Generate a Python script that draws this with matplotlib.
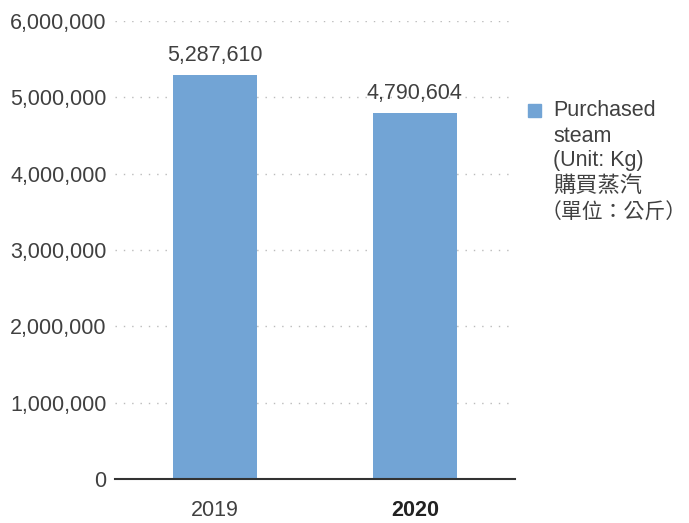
import matplotlib.pyplot as plt
from matplotlib.patches import Rectangle

years = ['2019', '2020']
steam_kg = [5287610, 4790604]
value_labels = ['5,287,610', '4,790,604']
y_ticks = [0, 1000000, 2000000, 3000000, 4000000, 5000000, 6000000]
y_tick_labels = ['0', '1,000,000', '2,000,000', '3,000,000', '4,000,000', '5,000,000', '6,000,000']
legend_lines = ['Purchased', 'steam', '(Unit: Kg)', '購買蒸汽', '（單位：公斤）']

fonts = ['Liberation Sans', 'Noto Sans CJK TC', 'DejaVu Sans']
plt.rcParams['font.family'] = fonts
text_color = '#404040'
bar_color = '#72a4d5'
fs = 15.5

fig = plt.figure(figsize=(6.89, 5.23), dpi=100)
ax = fig.add_axes([0.167, 0.084, 0.58, 0.876])

x = range(len(years))
ax.bar(x, steam_kg, width=0.42, color=bar_color, zorder=3)
for xi, v, lab in zip(x, steam_kg, value_labels):
    ax.annotate(lab, (xi, v), xytext=(0, 7), textcoords='offset points',
                ha='center', va='bottom', fontsize=fs, color=text_color)

ax.set_xlim(-0.5, 1.5)
ax.set_ylim(0, 6000000)
ax.set_yticks(y_ticks)
ax.set_yticklabels(y_tick_labels, fontsize=fs, color=text_color)
ax.set_xticks(list(x))
ax.set_xticklabels(years, fontsize=fs, color=text_color)
ax.get_xticklabels()[1].set_fontweight('bold')
ax.get_xticklabels()[1].set_color('#222222')
ax.tick_params(axis='both', length=0)
ax.tick_params(axis='y', pad=6)
ax.tick_params(axis='x', pad=15)

ax.grid(axis='y', color='#bbbbbb', linestyle=(0, (1, 5)), linewidth=1, zorder=0)
ax.grid(axis='x', visible=False)
for s in ['top', 'right', 'left']:
    ax.spines[s].set_visible(False)
ax.spines['bottom'].set_color('#333333')
ax.spines['bottom'].set_linewidth(1.5)
ax.spines['bottom'].set_zorder(4)

# legend: square marker plus one caption line per row
fig.patches.append(Rectangle((528 / 689, 1 - 117 / 523), 13 / 689, 13 / 523,
                             transform=fig.transFigure, color=bar_color))
line_y = [110, 136, 161, 187, 213]
line_x = [553, 553, 553, 553, 541]
line_size = [fs, fs, fs, 16, 15]
for i, line in enumerate(legend_lines):
    fig.text(line_x[i] / 689, 1 - line_y[i] / 523, line,
             ha='left', va='center', fontsize=line_size[i],
             color=text_color, family=fonts)

fig.savefig('out.png', dpi=100)
